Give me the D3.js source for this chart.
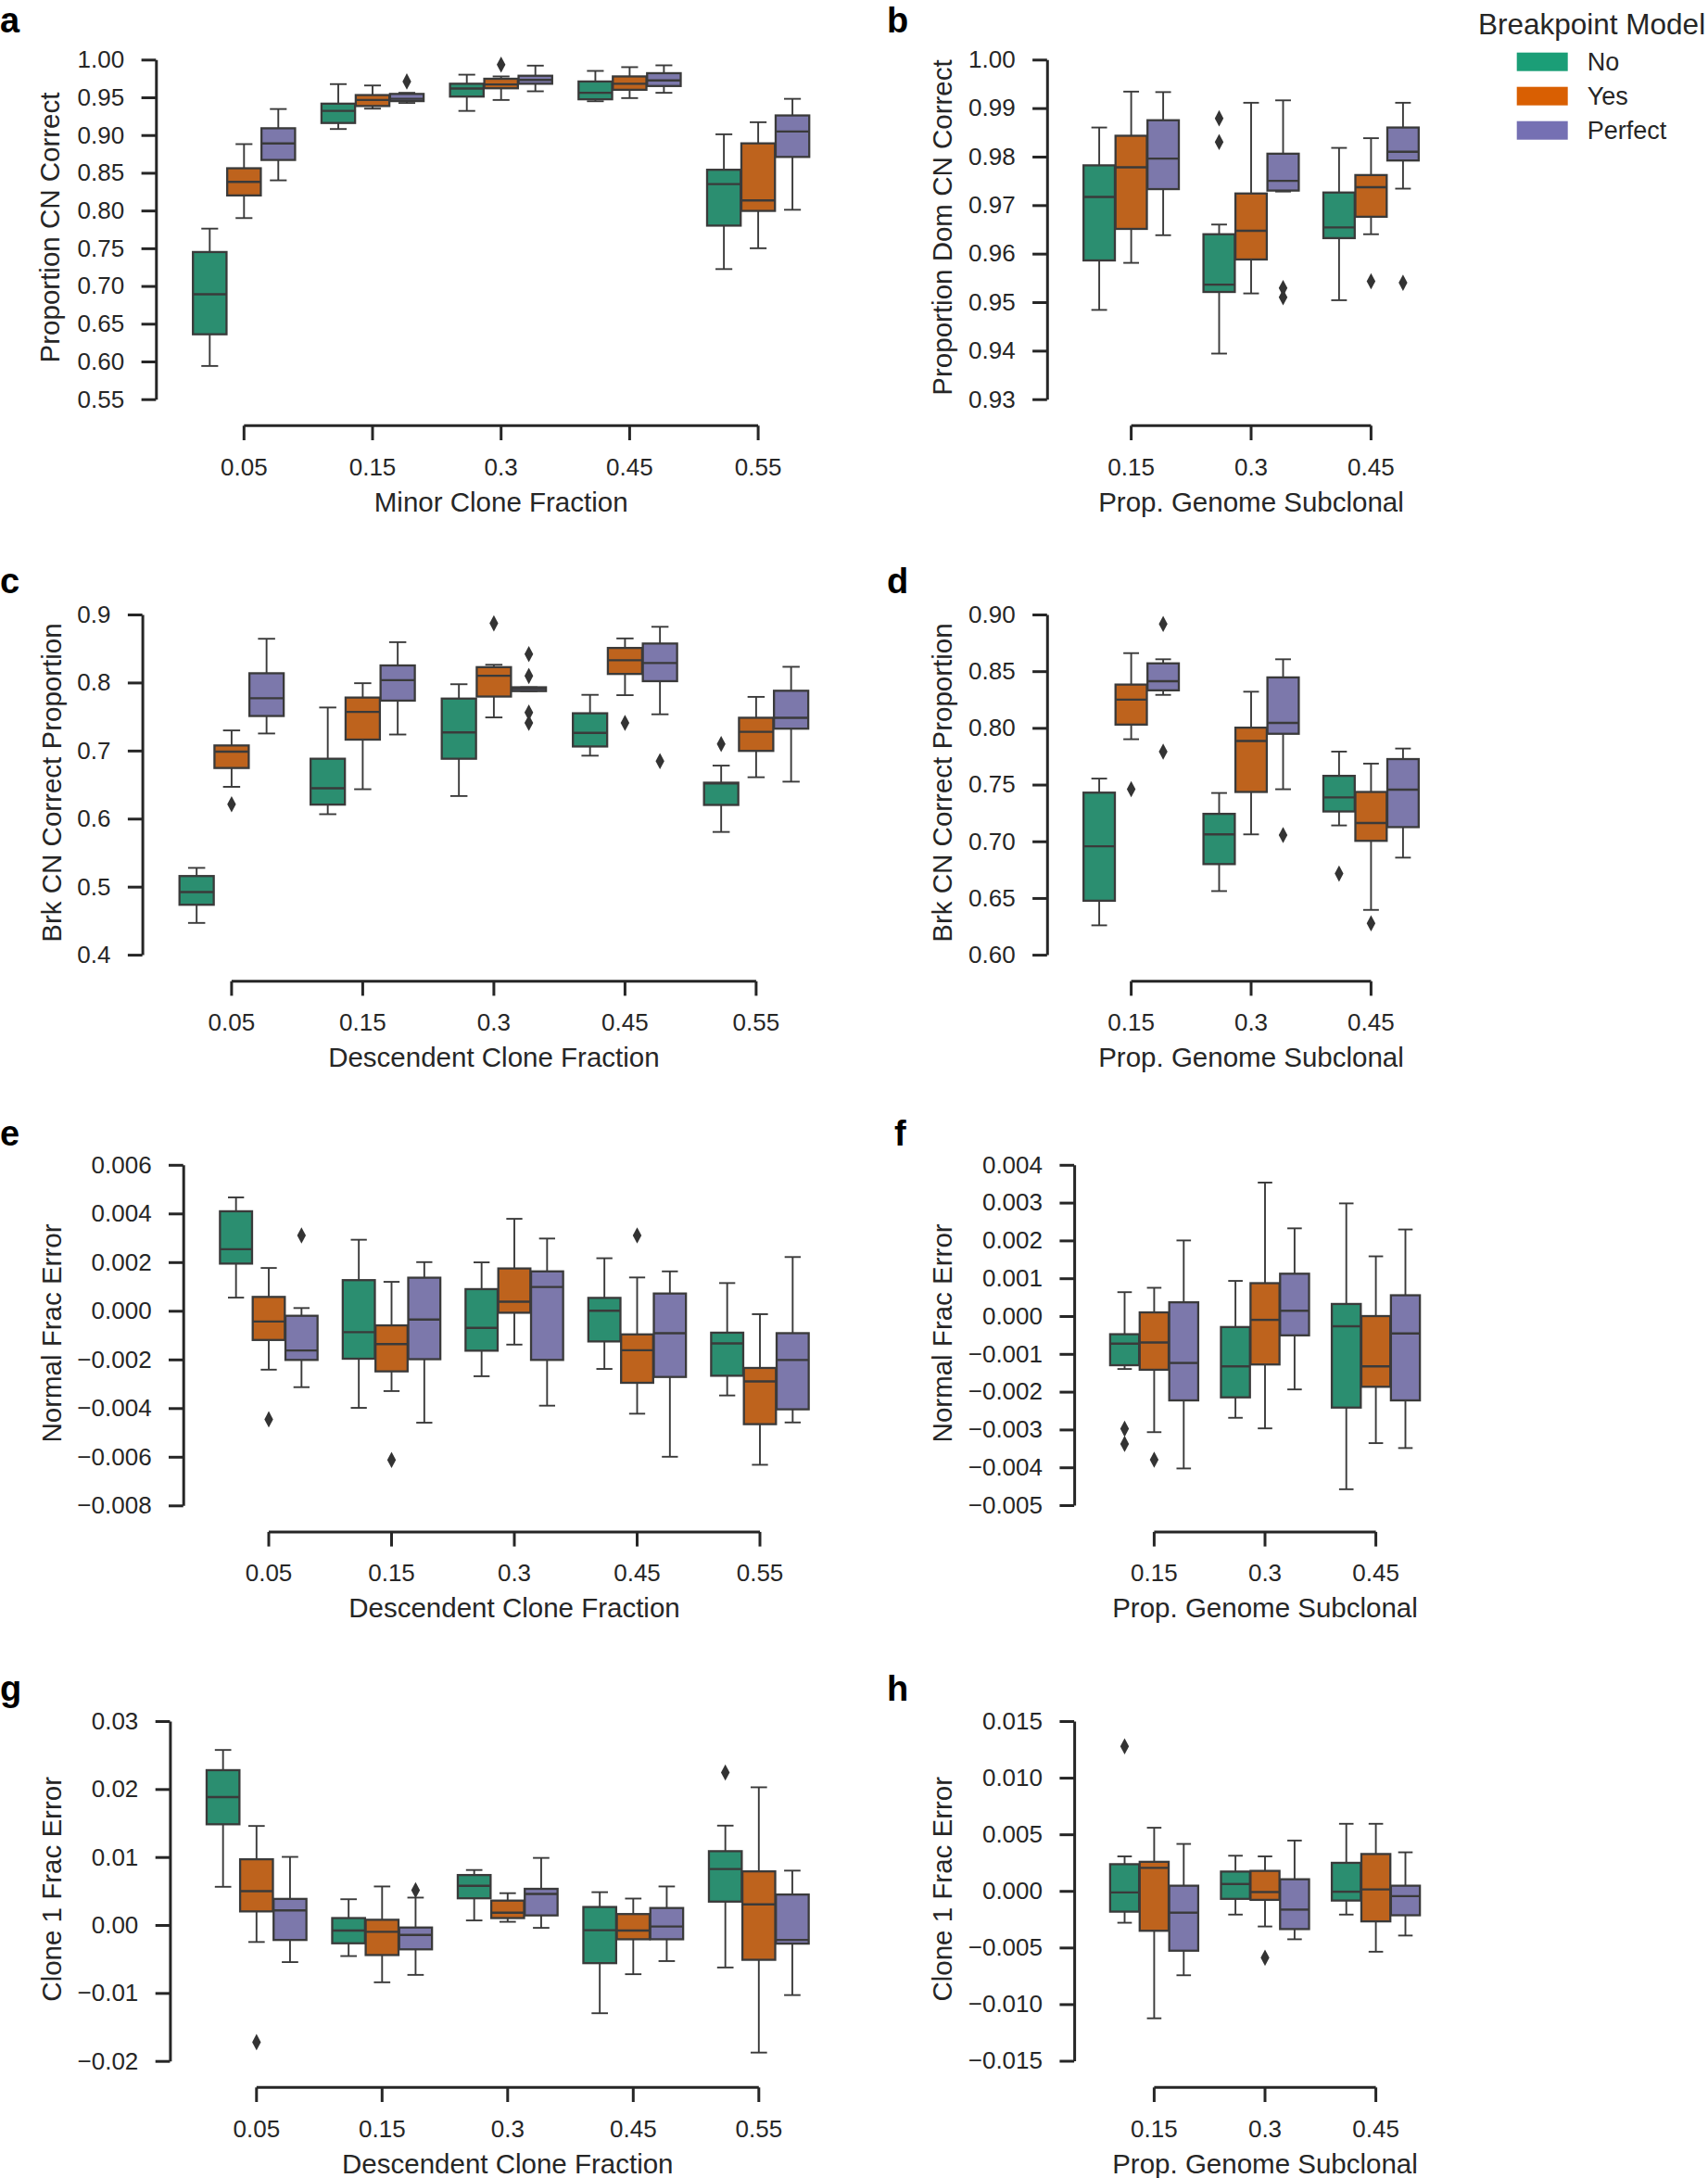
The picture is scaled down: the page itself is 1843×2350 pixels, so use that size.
<!DOCTYPE html>
<html><head><meta charset="utf-8">
<script src="https://cdn.jsdelivr.net/npm/d3@7"></script>
<style>
body{margin:0;background:#fff}
svg text{font-family:"Liberation Sans",Arial,Helvetica,sans-serif;fill:#262626}
</style>
</head><body>
<svg id="chart" width="1843" height="2350"></svg>
<script>
// ---------------- DATA ----------------
const hues = ["No", "Yes", "Perfect"];
const catsFrac = ["0.05", "0.15", "0.3", "0.45", "0.55"];
const catsProp = ["0.15", "0.3", "0.45"];

// each box: [whiskerLow, q1, median, q3, whiskerHigh]
const a_no = [[.594,.636,.689,.745,.776],[.908,.916,.932,.9416,.9675],[.932,.951,.9617,.968,.980],[.9448,.9474,.956,.971,.985],[.7224,.780,.835,.854,.901]];
const a_yes = [[.790,.820,.838,.856,.888],[.935,.9385,.9465,.953,.9657],[.9465,.962,.967,.9746,.9777],[.949,.960,.968,.9777,.990],[.750,.7995,.8133,.889,.917]];
const a_perfect = [[.840,.867,.889,.909,.9345],[.9425,.945,.948,.9545,.956],[.958,.968,.973,.9786,.992],[.956,.965,.9724,.982,.9924],[.801,.871,.9047,.926,.948]];
const a_out = [[1,2,.971],[2,1,.9933]]; // [category index, hue index, value]

const b_no = [[.9484,.9586,.9717,.9782,.986],[.9394,.9521,.9536,.964,.966],[.9504,.9632,.9654,.9726,.9818]];
const b_yes = [[.9581,.9651,.9778,.9843,.9934],[.9518,.9588,.9647,.9724,.9911],[.964,.9676,.9737,.9762,.9838]];
const b_perfect = [[.9638,.9733,.9796,.9875,.9933],[.9728,.973,.975,.9806,.9916],[.9734,.9792,.981,.986,.9911]];
const b_out = [[1,0,.9879],[1,0,.983],[1,2,.9529],[1,2,.951],[2,1,.9543],[2,2,.954]];

const c_no = [[.4467,.4734,.492,.5156,.5276],[.6065,.6206,.6447,.688,.7633],[.6332,.688,.7266,.7764,.7975],[.6925,.706,.7261,.7548,.7819],[.5804,.6201,.6518,.6528,.6779]];
const c_yes = [[.6467,.6744,.6985,.7075,.7296],[.6432,.7161,.7568,.7779,.799],[.7487,.7794,.81,.8226,.8261],[.7814,.8126,.8327,.8508,.8648],[.6608,.6995,.7276,.7482,.7789]];
const c_perfect = [[.7251,.7508,.7769,.8136,.8643],[.7236,.7734,.8035,.8251,.8593],[.7874,.7874,.7905,.793,.793],[.7533,.802,.8286,.8573,.8819],[.6543,.7322,.7482,.7879,.8231]];
const c_out = [[0,1,.6211],[2,1,.8869],[2,2,.8417],[2,2,.8096],[2,2,.7558],[2,2,.7407],[3,1,.7407],[3,2,.6844],[4,0,.7096]];

const d_no = [[.6259,.6476,.6956,.7429,.7553],[.6561,.6799,.7061,.7242,.7426],[.714,.7263,.7387,.7577,.7791]];
const d_yes = [[.79,.8029,.8249,.8382,.8659],[.7061,.7435,.7884,.8002,.8319],[.6395,.7004,.7161,.7435,.7685]];
const d_perfect = [[.8291,.8331,.8412,.8569,.8605],[.7459,.7948,.8044,.8445,.8605],[.6856,.7125,.7456,.7725,.7818]];
const d_out = [[0,1,.7459],[0,2,.8916],[0,2,.7791],[1,2,.7055],[2,0,.6715],[2,1,.6277]];

const e_no = [[.000541,.00194,.00253,.00409,.00466],[-.00399,-.00197,-.00088,.00126,.00292],[-.00269,-.00164,-.0007,.00089,.00199],[-.00239,-.00126,.0000,.00053,.00216],[-.00348,-.00267,-.00134,-.0009,.00114]];
const e_yes = [[-.00242,-.0012,-.00044,.00057,.00176],[-.0033,-.00249,-.00137,-.0006,.00119],[-.00139,-.00008,.000375,.00174,.00378],[-.00423,-.00296,-.00162,-.00097,.00137],[-.00633,-.00466,-.0029,-.00235,-.00014]];
const e_perfect = [[-.00314,-.00202,-.00163,-.000205,.000113],[-.0046,-.00199,-.00036,.00136,.002],[-.0039,-.00202,.00098,.00162,.00297],[-.006,-.00272,-.00092,.00071,.00162],[-.00459,-.00405,-.00202,-.00092,.00221]];
const e_out = [[0,1,-.00446],[0,2,.0031],[1,1,-.00613],[3,1,.0031]];

const f_no = [[-.0014,-.0013,-.00073,-.00048,.000632],[-.00269,-.00215,-.00133,-.00029,.00093],[-.00458,-.00242,-.00027,.00032,.00298]];
const f_yes = [[-.00307,-.00142,-.0007,.000097,.000748],[-.00297,-.00128,-.0001,.00087,.00353],[-.00336,-.00187,-.00133,0,.00158]];
const f_perfect = [[-.00403,-.00223,-.00124,.000364,.002],[-.00194,-.00051,.00014,.00112,.00232],[-.00349,-.00223,-.00046,.00055,.00229]];
const f_out = [[0,0,-.00298],[0,0,-.00338],[0,1,-.0038]];

const g_no = [[.00562,.01482,.01882,.02278,.02575],[-.00457,-.00269,-.00081,.00102,.00379],[.00067,.00393,.00576,.00735,.00809],[-.01298,-.00561,-.00076,.00265,.00483],[-.00625,.00344,.00824,.01086,.01462]];
const g_yes = [[-.0025,.002,.00497,.00967,.01457],[-.00843,-.00442,-.001,.00077,.00567],[.00047,.00102,.00181,.00359,.00468],[-.00724,-.0021,-.00081,.00161,.00389],[-.01877,-.00512,.00304,.00789,.02026]];
const g_perfect = [[-.00546,-.0022,.00215,.00384,.01002],[-.00734,-.00358,-.00146,-.00037,.00403],[-.00042,.00141,.00458,.00532,.00987],[-.00531,-.0021,-.00022,.0025,.00567],[-.01031,-.00274,-.0022,.00448,.008]];
const g_out = [[0,1,-.01723],[1,2,.00512],[4,0,.02243]];

const h_no = [[-.00281,-.00183,-.00013,.00236,.00305],[-.00209,-.0007,.00061,.00171,.00311],[-.00209,-.00085,-.00007,.00248,.00593]];
const h_yes = [[-.01125,-.00352,.00204,.00257,.00558],[-.00314,-.00079,-.0001,.00177,.00305],[-.00537,-.00269,.00013,.00326,.00593]];
const h_perfect = [[-.00745,-.00528,-.00192,.00046,.00415],[-.00427,-.00337,-.00165,.00103,.00445],[-.00394,-.00215,-.00046,.00046,.00341]];
const h_out = [[0,0,.01277],[1,1,-.0059]];

// y tick values
const a_ticks = [0.55,0.60,0.65,0.70,0.75,0.80,0.85,0.90,0.95,1.00];
const b_ticks = [0.93,0.94,0.95,0.96,0.97,0.98,0.99,1.00];
const c_ticks = [0.4,0.5,0.6,0.7,0.8,0.9];
const d_ticks = [0.60,0.65,0.70,0.75,0.80,0.85,0.90];
const e_ticks = [-0.008,-0.006,-0.004,-0.002,0.000,0.002,0.004,0.006];
const f_ticks = [-0.005,-0.004,-0.003,-0.002,-0.001,0.000,0.001,0.002,0.003,0.004];
const g_ticks = [-0.02,-0.01,0.00,0.01,0.02,0.03];
const h_ticks = [-0.015,-0.010,-0.005,0.000,0.005,0.010,0.015];

// ---------------- STYLE ----------------
const boxColors = ["#2b8e70", "#be631d", "#7c78ab"];
const legendColors = ["#1b9e77", "#d95f02", "#7570b3"];
const ink = "#262626", edge = "#3a3a3a";

const panels = [
  {id:"a", cats:catsFrac, series:[a_no,a_yes,a_perfect], out:a_out, ticks:a_ticks, fmt:".2f", ylabel:"Proportion CN Correct", xlabel:"Minor Clone Fraction",
   L:{yx:168.3, yTop:64.3, yBot:430.7, xy:459.3, t0:263.3, sp:138.7, lx:0, ly:35, labX:64}},
  {id:"b", cats:catsProp, series:[b_no,b_yes,b_perfect], out:b_out, ticks:b_ticks, fmt:".2f", ylabel:"Proportion Dom CN Correct", xlabel:"Prop. Genome Subclonal",
   L:{yx:1129.8, yTop:64.3, yBot:430.7, xy:459.3, t0:1220.6, sp:129.4, lx:957, ly:35, labX:1027}},
  {id:"c", cats:catsFrac, series:[c_no,c_yes,c_perfect], out:c_out, ticks:c_ticks, fmt:".1f", ylabel:"Brk CN Correct Proportion", xlabel:"Descendent Clone Fraction",
   L:{yx:153.6, yTop:663, yBot:1030.1, xy:1058.7, t0:249.9, sp:141.5, lx:0, ly:640, labX:66}},
  {id:"d", cats:catsProp, series:[d_no,d_yes,d_perfect], out:d_out, ticks:d_ticks, fmt:".2f", ylabel:"Brk CN Correct Proportion", xlabel:"Prop. Genome Subclonal",
   L:{yx:1129.8, yTop:663, yBot:1030.1, xy:1058.7, t0:1220.6, sp:129.4, lx:957, ly:640, labX:1027}},
  {id:"e", cats:catsFrac, series:[e_no,e_yes,e_perfect], out:e_out, ticks:e_ticks, fmt:".3f", ylabel:"Normal Frac Error", xlabel:"Descendent Clone Fraction",
   L:{yx:197.7, yTop:1256.8, yBot:1624.3, xy:1652.9, t0:290, sp:132.5, lx:0, ly:1236, labX:66}},
  {id:"f", cats:catsProp, series:[f_no,f_yes,f_perfect], out:f_out, ticks:f_ticks, fmt:".3f", ylabel:"Normal Frac Error", xlabel:"Prop. Genome Subclonal",
   L:{yx:1159.1, yTop:1256.8, yBot:1624, xy:1652.9, t0:1245.4, sp:119.6, lx:965, ly:1236, labX:1027}},
  {id:"g", cats:catsFrac, series:[g_no,g_yes,g_perfect], out:g_out, ticks:g_ticks, fmt:".2f", ylabel:"Clone 1 Frac Error", xlabel:"Descendent Clone Fraction",
   L:{yx:183.4, yTop:1857, yBot:2223.7, xy:2252.3, t0:276.8, sp:135.5, lx:0, ly:1835, labX:66}},
  {id:"h", cats:catsProp, series:[h_no,h_yes,h_perfect], out:h_out, ticks:h_ticks, fmt:".3f", ylabel:"Clone 1 Frac Error", xlabel:"Prop. Genome Subclonal",
   L:{yx:1159.1, yTop:1857, yBot:2223.5, xy:2252.3, t0:1245.4, sp:119.6, lx:957, ly:1835, labX:1027}}
];

const svg = d3.select("#chart");
svg.append("rect").attr("width",1843).attr("height",2350).attr("fill","#fff");

function styleAxis(sel){
  sel.attr("font-family",null).attr("font-size",null);
  sel.selectAll("path.domain").attr("stroke",ink).attr("stroke-width",3);
  sel.selectAll(".tick line").attr("stroke",ink).attr("stroke-width",3);
  sel.selectAll(".tick text").attr("font-size",26).style("fill",ink);
}

function drawPanel(p){
  const L = p.L;
  const g = svg.append("g");
  const n = p.cats.length;
  const y = d3.scaleLinear().domain([p.ticks[0], p.ticks[p.ticks.length-1]]).range([L.yBot, L.yTop]);
  const x = d3.scaleBand().domain(p.cats).range([L.t0 - L.sp/2, L.t0 + (n-1)*L.sp + L.sp/2]).padding(0);
  const hx = d3.scaleBand().domain(hues).range([-0.4*L.sp, 0.4*L.sp]).padding(0);

  // y axis
  const ya = g.append("g").attr("transform",`translate(${L.yx},0)`)
    .call(d3.axisLeft(y).tickValues(p.ticks).tickFormat(d3.format(p.fmt)).tickSize(15.7).tickSizeOuter(0).tickPadding(18.4));
  styleAxis(ya);

  // x axis (trimmed spine)
  const xa = g.append("g").attr("transform",`translate(0,${L.xy})`)
    .call(d3.axisBottom(x).tickSize(15.7).tickSizeOuter(0).tickPadding(19.2));
  const c0 = x(p.cats[0]) + x.bandwidth()/2, c1 = x(p.cats[n-1]) + x.bandwidth()/2;
  xa.select("path.domain").attr("d", `M${c0},0H${c1}`);
  styleAxis(xa);

  // boxes
  const bw = hx.bandwidth()*0.98;
  const cx = (i,h) => x(p.cats[i]) + x.bandwidth()/2 + hx(hues[h]) + hx.bandwidth()/2;
  p.series.forEach((arr,h) => {
    arr.forEach((d,i) => {
      const [lo,q1,med,q3,hi] = d;
      const c = cx(i,h);
      const bg = g.append("g");
      bg.append("line").attr("x1",c).attr("x2",c).attr("y1",y(q3)).attr("y2",y(hi)).attr("stroke",edge).attr("stroke-width",1.9);
      bg.append("line").attr("x1",c).attr("x2",c).attr("y1",y(q1)).attr("y2",y(lo)).attr("stroke",edge).attr("stroke-width",1.9);
      bg.append("line").attr("x1",c-bw/4).attr("x2",c+bw/4).attr("y1",y(hi)).attr("y2",y(hi)).attr("stroke",edge).attr("stroke-width",1.9);
      bg.append("line").attr("x1",c-bw/4).attr("x2",c+bw/4).attr("y1",y(lo)).attr("y2",y(lo)).attr("stroke",edge).attr("stroke-width",1.9);
      bg.append("rect").attr("x",c-bw/2).attr("width",bw).attr("y",y(q3)).attr("height",Math.max(0.01,y(q1)-y(q3)))
        .attr("fill",boxColors[h]).attr("stroke",edge).attr("stroke-width",2.3);
      bg.append("line").attr("x1",c-bw/2).attr("x2",c+bw/2).attr("y1",y(med)).attr("y2",y(med)).attr("stroke",edge).attr("stroke-width",2.4);
    });
  });
  // outliers (diamonds)
  g.selectAll("path.flier").data(p.out).enter().append("path").attr("class","flier")
    .attr("d", d => { const c = cx(d[0],d[1]), v = y(d[2]); return `M${c},${v-8.8}L${c+4.7},${v}L${c},${v+8.8}L${c-4.7},${v}Z`; })
    .attr("fill","#333333");

  // axis labels
  g.append("text").attr("x",(c0+c1)/2).attr("y",L.xy+92.4).attr("text-anchor","middle").attr("font-size",29.5).text(p.xlabel);
  g.append("text").attr("transform",`translate(${L.labX},${(L.yTop+L.yBot)/2-2}) rotate(-90)`).attr("text-anchor","middle").attr("font-size",29.5).text(p.ylabel);
  // panel letter
  g.append("text").attr("x",L.lx).attr("y",L.ly).attr("font-size",38).attr("font-weight","bold").style("fill","#000").text(p.id);
}
panels.forEach(drawPanel);

// legend
const lg = svg.append("g");
lg.append("text").attr("x",1595).attr("y",37.3).attr("font-size",31.5).text("Breakpoint Model");
hues.forEach((h,i) => {
  lg.append("rect").attr("x",1636.7).attr("y",56.7+i*37).attr("width",55).attr("height",20).attr("fill",legendColors[i]);
  lg.append("text").attr("x",1712.7).attr("y",76+i*37).attr("font-size",27).text(h);
});
</script>
</body></html>
